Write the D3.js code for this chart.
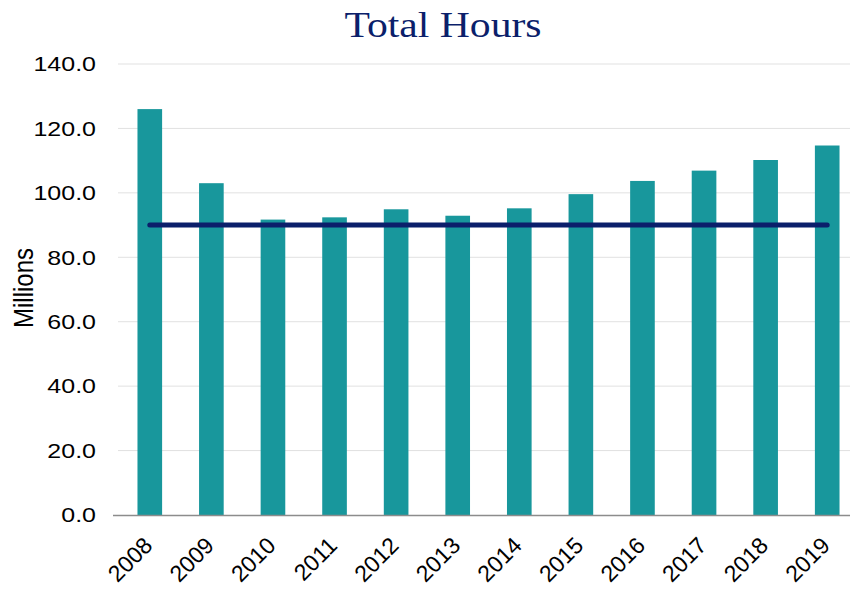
<!DOCTYPE html>
<html>
<head>
<meta charset="utf-8">
<script src="https://cdn.jsdelivr.net/npm/d3@7"></script>
<style>
  body { margin: 0; background: #fff; }
</style>
</head>
<body>
<div id="grafico"></div>
<script>
// dados
const years = ["2008", "2009", "2010", "2011", "2012", "2013", "2014", "2015", "2016", "2017", "2018", "2019"];
const hours = [126.0, 103.0, 91.7, 92.4, 94.9, 92.9, 95.2, 99.6, 103.7, 106.9, 110.2, 114.7];
const baseline = 90.0;
const yTicks = [0, 20, 40, 60, 80, 100, 120, 140];

const W = 850, H = 591;
const margin = { top: 64, right: -8, bottom: 76, left: 119 };
const width = W - margin.left - margin.right;
const height = H - margin.top - margin.bottom;
const stretch = 1.19; // texto levemente esticado na horizontal, como no original

const svg = d3.select("#grafico")
  .append("svg")
    .attr("width", W)
    .attr("height", H);

const g = svg.append("g")
  .attr("transform", "translate(" + margin.left + "," + margin.top + ")");

const x = d3.scaleBand()
  .domain(years)
  .range([0, width])
  .paddingInner(0.6)
  .paddingOuter(0.3);

const y = d3.scaleLinear()
  .domain([0, 140])
  .range([height, 0]);

// linhas de grade
g.selectAll(".grid")
  .data(yTicks.filter(d => d > 0))
  .enter()
  .append("line")
    .attr("x1", -1)
    .attr("x2", W - margin.left)
    .attr("y1", d => y(d))
    .attr("y2", d => y(d))
    .attr("stroke", "#e1e1e1")
    .attr("stroke-width", 1);

// eixo y
const yAxis = g.append("g")
  .call(d3.axisLeft(y).tickValues(yTicks).tickFormat(d3.format(".1f")).tickSize(0));
yAxis.select(".domain").remove();
yAxis.selectAll("text")
  .attr("x", -23 / stretch)
  .attr("transform", "scale(" + stretch + ",1)")
  .attr("font-family", "Liberation Sans, Arial, sans-serif")
  .attr("font-size", "21px")
  .attr("fill", "#000");

// barras
g.selectAll(".bar")
  .data(years)
  .enter()
  .append("rect")
    .attr("x", d => x(d))
    .attr("y", (d, i) => y(hours[i]))
    .attr("width", x.bandwidth())
    .attr("height", (d, i) => height - y(hours[i]))
    .attr("fill", "#18979c");

// eixo x
const xAxis = g.append("g")
  .attr("transform", "translate(0," + height + ")")
  .call(d3.axisBottom(x).tickSize(0));
xAxis.select(".domain")
  .attr("d", "M-6,0.5H" + (W - margin.left))
  .attr("stroke", "#8c8c8c")
  .attr("stroke-width", 1.5);
xAxis.selectAll("text")
  .attr("x", 0)
  .attr("y", 0)
  .attr("dx", 0)
  .attr("dy", 0)
  .attr("font-family", "Liberation Sans, Arial, sans-serif")
  .attr("font-size", "23px")
  .attr("fill", "#000")
  .attr("text-anchor", "end")
  .attr("transform", "translate(4,32) rotate(-45)");

// linha de referência
const line = d3.line()
  .x(d => x(d) + x.bandwidth() / 2)
  .y(() => y(baseline));
g.append("path")
  .datum(years)
  .attr("d", line)
  .attr("fill", "none")
  .attr("stroke", "#0b1f6b")
  .attr("stroke-width", 5)
  .attr("stroke-linecap", "round");

// título
svg.append("text")
  .attr("transform", "translate(443,37) scale(" + stretch + ",1)")
  .attr("text-anchor", "middle")
  .attr("font-family", "Liberation Serif, 'DejaVu Serif', serif")
  .attr("font-size", "35px")
  .attr("fill", "#0b1f6b")
  .text("Total Hours");

// rótulo vertical
svg.append("text")
  .attr("transform", "translate(23,288) scale(" + stretch + ",1) rotate(-90)")
  .attr("text-anchor", "middle")
  .attr("dy", "0.36em")
  .attr("font-family", "Liberation Sans, Arial, sans-serif")
  .attr("font-size", "24px")
  .attr("fill", "#000")
  .text("Millions");
</script>
</body>
</html>
